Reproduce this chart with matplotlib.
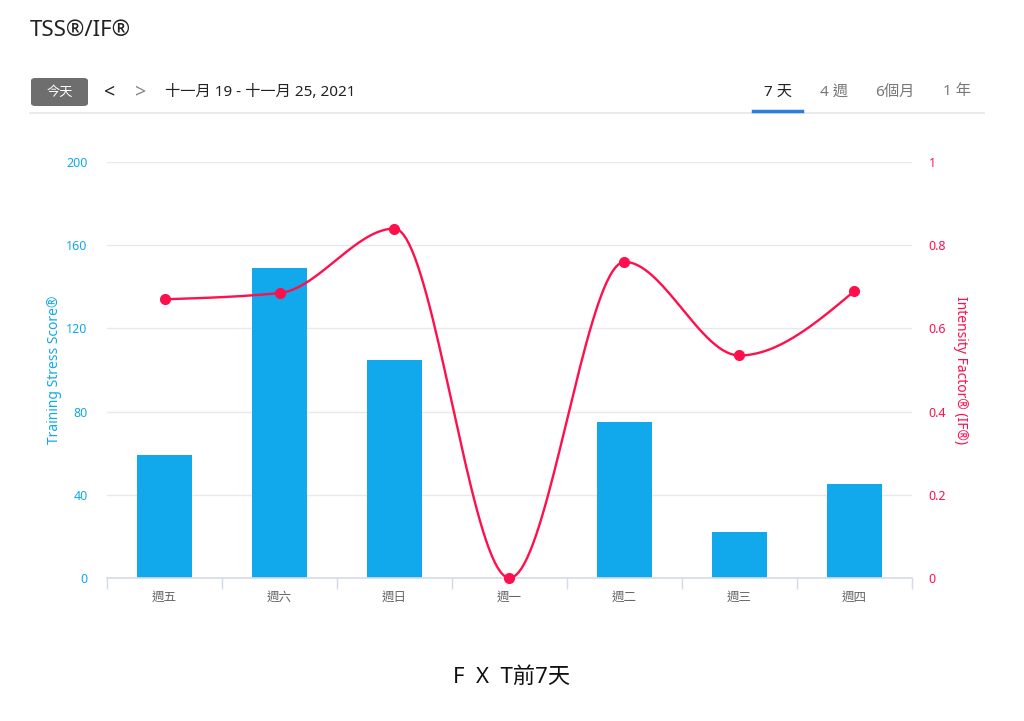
import numpy as np
import matplotlib
matplotlib.use("Agg")
import matplotlib.pyplot as plt
from matplotlib.patches import FancyBboxPatch

plt.rcParams['font.family'] = ['Noto Sans', 'Noto Sans CJK TC', 'DejaVu Sans']

# ── data ──────────────────────────────────────────────────────────────────────
days = ["週五", "週六", "週日", "週一", "週二", "週三", "週四"]
tss = [59, 149, 105, 0, 75, 22, 45]
intensity = [0.67, 0.685, 0.84, 0.0, 0.76, 0.535, 0.69]
tss_ticks = [0, 40, 80, 120, 160, 200]
if_ticks = [0, 0.2, 0.4, 0.6, 0.8, 1]
if_tick_labels = ["0", "0.2", "0.4", "0.6", "0.8", "1"]
range_tabs = ["7 天", "4 週", "6個月", "1 年"]

BLUE = "#12a8ec"
RED = "#ff0f4c"
GRID = "#e6e9ee"
AXIS = "#d3dbe9"


def monotone_curve(x, y, n=40):
    # monotone cubic (Fritsch-Carlson) so extremes sit on the data points
    x = np.asarray(x, float); y = np.asarray(y, float)
    h = np.diff(x); s = np.diff(y) / h
    m = np.zeros_like(y)
    for i in range(1, len(y) - 1):
        if s[i - 1] * s[i] > 0:
            m[i] = 2 / (1 / s[i - 1] + 1 / s[i])
    m[0] = (3 * s[0] - m[1]) / 2
    m[-1] = (3 * s[-1] - m[-2]) / 2
    xs, ys = [], []
    for i in range(len(h)):
        t = np.linspace(0, 1, n)
        h00 = 2*t**3 - 3*t**2 + 1; h10 = t**3 - 2*t**2 + t
        h01 = -2*t**3 + 3*t**2; h11 = t**3 - t**2
        xs.append(x[i] + t * h[i])
        ys.append(h00*y[i] + h10*h[i]*m[i] + h01*y[i+1] + h11*h[i]*m[i+1])
    return np.concatenate(xs), np.concatenate(ys)


fig = plt.figure(figsize=(10.24, 7.21), dpi=100)
ax = fig.add_axes([0.1045, 0.1983, 0.7861, 0.577])
x = np.arange(len(days))

ax.bar(x, tss, width=0.48, color=BLUE, zorder=2)
ax.set_xlim(-0.5, len(days) - 0.5)
ax.set_ylim(0, 200)
ax.set_yticks(tss_ticks)
ax.tick_params(axis="y", length=0, colors=BLUE, labelsize=9, pad=14)
ax.yaxis.grid(True, color=GRID, lw=1, zorder=0)
ax.set_xticks(x)
ax.set_xticklabels(days)
ax.set_xticks(np.arange(-0.5, len(days)), minor=True)
ax.tick_params(axis="x", which="major", length=0, labelsize=9, labelcolor="#666666", pad=9)
ax.tick_params(axis="x", which="minor", length=8, color=AXIS, width=1)
for sp in ["top", "right", "left"]:
    ax.spines[sp].set_visible(False)
ax.spines["bottom"].set_color(AXIS)
ax.spines["bottom"].set_linewidth(1.2)
ax.set_ylabel("Training Stress Score®", color=BLUE, fontsize=10, labelpad=3)

ax2 = ax.twinx()
ax2.set_ylim(0, 1)
ax2.set_yticks(if_ticks)
ax2.set_yticklabels(if_tick_labels)
ax2.tick_params(axis="y", length=0, colors=RED, labelsize=9, pad=12)
for sp in ax2.spines.values():
    sp.set_visible(False)
cx, cy = monotone_curve(x, intensity)
ax2.plot(cx, cy, color=RED, lw=1.7, zorder=3, clip_on=False)
ax2.plot(x, intensity, "o", color=RED, ms=7, zorder=4, clip_on=False)
ax2.set_ylabel("Intensity Factor® (IF®)", color=RED, fontsize=10, rotation=270, labelpad=16)

# ── header ────────────────────────────────────────────────────────────────────
W, H = 1024, 721
def fx(px): return px / W
def fy(py): return 1 - py / H

fig.text(fx(30), fy(31), "TSS®/IF®", fontsize=16, color="#222222", va="center")
fig.patches.append(FancyBboxPatch((fx(31), fy(106)), fx(57), 28 / H,
                                  boxstyle="round,pad=0,rounding_size=0.004",
                                  transform=fig.transFigure, fc="#6e6e6e", ec="none"))
fig.text(fx(59.5), fy(92.5), "今天", fontsize=9.5, color="white", ha="center", va="center")
fig.text(fx(110), fy(92), "<", fontsize=14, color="#222222", ha="center", va="center", fontweight="bold")
fig.text(fx(141), fy(92), ">", fontsize=14, color="#888888", ha="center", va="center")
fig.text(fx(165), fy(93), "十一月 19 - 十一月 25, 2021", fontsize=11, color="#222222", va="center")
for label, px in zip(range_tabs, [778, 834, 895, 957]):
    fig.text(fx(px), fy(92), label, fontsize=11, ha="center", va="center",
             color="#222222" if label == range_tabs[0] else "#777777")
fig.add_artist(plt.Line2D([fx(30), fx(984)], [fy(112.5), fy(112.5)], color="#e6e6e6", lw=1.2))
fig.add_artist(plt.Line2D([fx(753), fx(802)], [fy(111), fy(111)], color="#2a7fe0", lw=2.5))

fig.text(0.5, fy(677), "F  X  T前7天", fontsize=16, color="#111111", ha="center", va="center")

fig.savefig("out.png", dpi=100)
